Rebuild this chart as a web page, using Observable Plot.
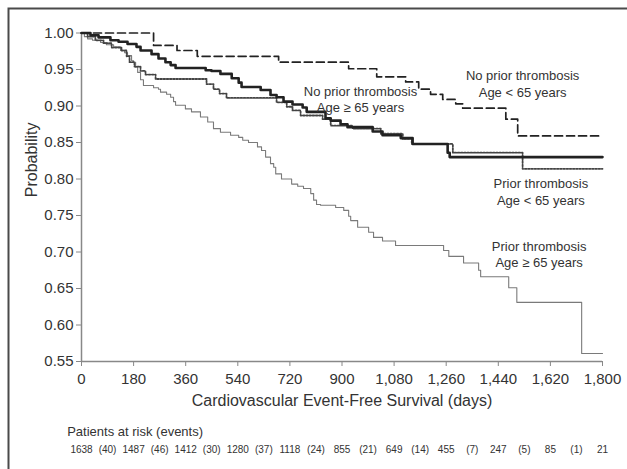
<!DOCTYPE html>
<html><head><meta charset="utf-8">
<script src="https://cdn.jsdelivr.net/npm/d3@7"></script>
<script src="https://cdn.jsdelivr.net/npm/@observablehq/plot@0.6"></script>
<style>html,body{margin:0;padding:0;background:#fff;}</style>
</head><body><div id="chart"></div>
<script>
// No prior thrombosis, age < 65 (dashed)
const noPriorYoungDays = [0,249,330,400,681,923,1020,1120,1165,1206,1248,1293,1317,1466,1507,1800];
const noPriorYoungProb = [1,0.983,0.976,0.968,0.960,0.951,0.940,0.933,0.923,0.916,0.909,0.903,0.897,0.882,0.859,0.859];
// No prior thrombosis, age >= 65 (thick solid)
const noPriorOldDays = [0,31,59,100,128,159,190,204,242,266,290,308,325,429,449,480,519,543,553,619,653,674,698,729,764,778,843,861,895,919,1006,1040,1103,1144,1265,1272,1800];
const noPriorOldProb = [1,0.997,0.994,0.990,0.988,0.985,0.981,0.976,0.971,0.965,0.960,0.956,0.952,0.949,0.948,0.944,0.938,0.932,0.926,0.922,0.915,0.912,0.906,0.902,0.898,0.892,0.883,0.880,0.875,0.871,0.865,0.860,0.856,0.848,0.836,0.830,0.830];
// Prior thrombosis, age < 65 (dotted)
const priorYoungDays = [0,21,48,76,104,138,156,166,183,204,221,256,432,456,477,501,674,709,729,757,833,861,937,1034,1110,1141,1283,1524,1800];
const priorYoungProb = [1,0.995,0.990,0.986,0.980,0.976,0.968,0.960,0.954,0.948,0.943,0.937,0.930,0.923,0.917,0.911,0.905,0.899,0.894,0.887,0.882,0.873,0.869,0.862,0.855,0.848,0.836,0.814,0.814];
// Prior thrombosis, age >= 65 (thin gray)
const priorOldDays = [0,10,21,38,66,86,111,135,149,159,173,180,187,194,204,214,249,266,273,294,308,318,325,359,380,411,436,456,480,515,543,557,577,608,622,636,653,664,671,691,726,747,767,792,802,812,826,878,906,923,930,954,992,1009,1040,1085,1251,1269,1320,1372,1379,1476,1504,1728,1800];
const priorOldProb = [1,0.995,0.992,0.990,0.987,0.984,0.981,0.976,0.973,0.969,0.962,0.960,0.953,0.946,0.936,0.928,0.925,0.923,0.919,0.916,0.912,0.906,0.901,0.896,0.892,0.885,0.878,0.869,0.864,0.860,0.857,0.853,0.850,0.844,0.839,0.830,0.821,0.816,0.807,0.800,0.793,0.790,0.787,0.780,0.771,0.765,0.764,0.761,0.757,0.749,0.743,0.734,0.727,0.720,0.715,0.709,0.702,0.694,0.685,0.675,0.666,0.651,0.631,0.561,0.561];

const xTicks = [0,180,360,540,720,900,1080,1260,1440,1620,1800];
const yTicks = [0.55,0.60,0.65,0.70,0.75,0.80,0.85,0.90,0.95,1.00];

const atRisk = ["1638","1487","1412","1280","1118","855","649","455","247","85","21"];
const events = ["(40)","(46)","(30)","(37)","(24)","(21)","(14)","(7)","(5)","(1)"];

const labelTexts = ["No prior thrombosis\nAge < 65 years","No prior thrombosis\nAge ≥ 65 years","Prior thrombosis\nAge < 65 years","Prior thrombosis\nAge ≥ 65 years"];
const labelDays = [1524, 964, 1587, 1581];
const labelProbs = [0.931, 0.9096, 0.783, 0.698];

const toRows = (xs, ys) => xs.map((d, i) => ({day: d, p: ys[i]}));
const font = "'Liberation Sans', Arial, Helvetica, sans-serif";
const ink = "#333";

const chart = Plot.plot({
  width: 627, height: 469,
  marginLeft: 81, marginRight: 25, marginTop: 32.5, marginBottom: 108,
  style: {fontFamily: font, color: ink, background: "#fff", overflow: "hidden"},
  x: {domain: [0, 1800]},
  y: {domain: [0.55, 1]},
  marks: [
    Plot.frame({insetTop: -24.5, insetLeft: -73, insetRight: -80, insetBottom: -200, stroke: "#4a4a4a", strokeWidth: 2}),
    Plot.axisX({ticks: xTicks, tickFormat: d3.format(","), tickSize: 5, tickPadding: 7, fontSize: 15, label: null, stroke: "#888", fill: ink}),
    Plot.axisY({ticks: yTicks, tickFormat: d3.format(".2f"), tickSize: 5, tickPadding: 3, fontSize: 15, label: null, stroke: "#888", fill: ink}),
    Plot.ruleX([0], {stroke: "#888", strokeWidth: 1.5}),
    Plot.ruleY([0.55], {stroke: "#888", strokeWidth: 1.5}),
    Plot.line(toRows(priorOldDays, priorOldProb), {x: "day", y: "p", curve: "step-after", stroke: "#7a7a7a", strokeWidth: 1.1}),
    Plot.line(toRows(priorYoungDays, priorYoungProb), {x: "day", y: "p", curve: "step-after", stroke: "#444", strokeWidth: 1.8, strokeDasharray: "1.6,1.6"}),
    Plot.line(toRows(noPriorOldDays, noPriorOldProb), {x: "day", y: "p", curve: "step-after", stroke: "#222", strokeWidth: 2.6}),
    Plot.line(toRows(noPriorYoungDays, noPriorYoungProb), {x: "day", y: "p", curve: "step-after", stroke: "#222", strokeWidth: 1.7, strokeDasharray: "8,4"}),
    Plot.text(labelTexts, {x: (d, i) => labelDays[i], y: (d, i) => labelProbs[i], text: d => d, fontSize: 13, lineHeight: 1.25, fill: ink}),
    Plot.text(["Cardiovascular Event-Free Survival (days)"], {frameAnchor: "bottom", dy: 44, fontSize: 16, fill: ink}),
    Plot.text(["Probability"], {frameAnchor: "left", dx: -49.5, rotate: -90, fontSize: 16, fill: ink}),
    Plot.text(["Patients at risk (events)"], {frameAnchor: "bottom-left", dx: -14.3, dy: 74, textAnchor: "start", fontSize: 13, fill: ink}),
    Plot.text(atRisk, {x: (d, i) => xTicks[i], frameAnchor: "bottom", dy: 91.7, fontSize: 10, fill: ink}),
    Plot.text(events, {x: (d, i) => (xTicks[i] + xTicks[i + 1]) / 2, frameAnchor: "bottom", dy: 91.7, fontSize: 10, fill: ink})
  ]
});
document.getElementById("chart").append(chart);
</script>
</body></html>
